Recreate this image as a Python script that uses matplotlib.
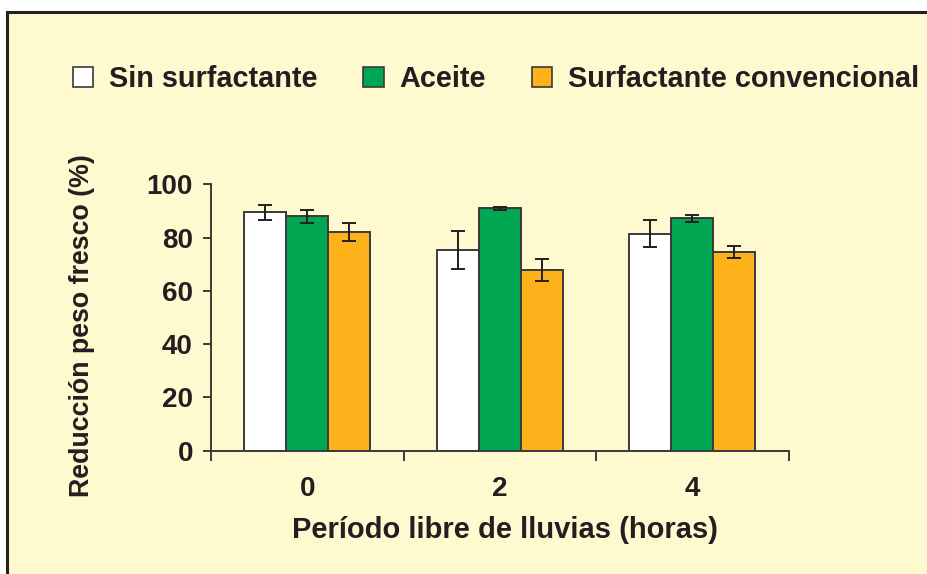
import matplotlib.pyplot as plt
from matplotlib.patches import Patch, Rectangle
import numpy as np

plt.rcParams['font.family'] = ['Liberation Sans', 'DejaVu Sans']
plt.rcParams['font.weight'] = 'bold'

# Data
periods = ['0', '2', '4']
series = ['Sin surfactante', 'Aceite', 'Surfactante convencional']
sin_surf = [89.5, 75.3, 81.5]
aceite = [88.0, 91.0, 87.2]
convencional = [82.0, 67.8, 74.7]
sin_err = [2.8, 7.2, 5.0]
aceite_err = [2.5, 0.6, 1.4]
conv_err = [3.4, 4.0, 2.2]

colors = ['#FFFFFF', '#00A651', '#FDB11B']
bg = '#FFF9D0'
ink = '#231F20'

fig = plt.figure(figsize=(9.27, 5.74), dpi=100)
# cream panel with dark frame (open to the right and bottom)
top = 1 - 12 / 574
fig.patches.append(Rectangle((7 / 927, -0.2), 1.2, top + 0.2,
                             transform=fig.transFigure, facecolor=bg,
                             edgecolor=ink, linewidth=2.2, zorder=-10))

ax = fig.add_axes([211 / 927, 1 - 450.7 / 574, (788.5 - 211) / 927, (450.7 - 184.3) / 574])
ax.set_facecolor('none')

x = np.arange(len(periods))
w = 0.218
vals = [sin_surf, aceite, convencional]
errs = [sin_err, aceite_err, conv_err]
for i, (v, e, c) in enumerate(zip(vals, errs, colors)):
    ax.bar(x + (i - 1) * w, v, w, color=c, edgecolor='#3a3a3a', linewidth=1.4,
           yerr=e, capsize=4.8, error_kw=dict(ecolor=ink, elinewidth=1.4, capthick=1.4),
           label=series[i], zorder=2)

ax.set_xlim(-0.5, 2.5)
ax.set_ylim(0, 100)
ax.set_yticks([0, 20, 40, 60, 80, 100])
ax.set_xticks([-0.5, 0.5, 1.5, 2.5])
ax.set_xticklabels([])
ax.set_xticks(x, minor=True)
ax.set_xticklabels(periods, minor=True)
ax.tick_params(axis='x', which='major', length=7, width=1.4, color='#3a3a3a')
ax.tick_params(axis='x', which='minor', length=0, pad=18, labelsize=20, labelcolor=ink)
ax.tick_params(axis='y', length=6, width=1.4, color='#3a3a3a', pad=7, labelsize=20, labelcolor=ink)
for s in ['top', 'right']:
    ax.spines[s].set_visible(False)
for s in ['left', 'bottom']:
    ax.spines[s].set_color('#3a3a3a')
    ax.spines[s].set_linewidth(1.4)

fig.text(505 / 927, 1 - 530 / 574, 'Período libre de lluvias (horas)', ha='center', va='center',
         fontsize=21, fontweight='bold', color=ink)
fig.text(82 / 927, 1 - 326 / 574, 'Reducción peso fresco (%)', ha='center', va='center',
         rotation=90, fontsize=19.3, fontweight='bold', color=ink)

handles = [Patch(facecolor=c, edgecolor='#3a3a3a', linewidth=1.2) for c in colors]
fig.legend(handles, series, loc='center', bbox_to_anchor=(496 / 927, 1 - 79 / 574), ncol=3,
           frameon=False, fontsize=20.8, handlelength=0.7, handleheight=0.7,
           handletextpad=0.55, columnspacing=1.6, labelcolor=ink)

fig.savefig('out.png', dpi=100)
